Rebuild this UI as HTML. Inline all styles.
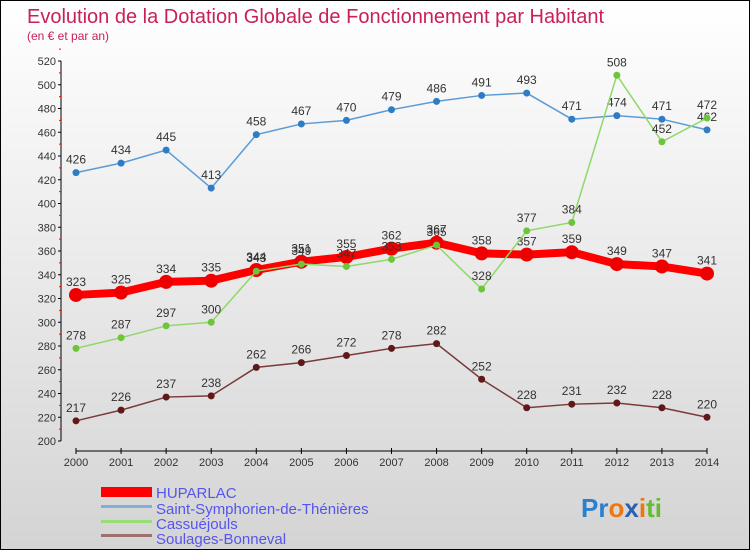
<!DOCTYPE html>
<html><head><meta charset="utf-8"><style>
body{margin:0}
#c{width:750px;height:550px;position:relative;background:linear-gradient(#fff,#d4d4d4);border:1px solid #000;box-sizing:border-box;font-family:"Liberation Sans",sans-serif;overflow:hidden}
</style></head><body>
<div id="c">
<svg id="s" width="748" height="548" style="position:absolute;left:0;top:0">
<text x="26" y="22" font-size="20" fill="#c8205a">Evolution de la Dotation Globale de Fonctionnement par Habitant</text>
<text x="26" y="39" font-size="12" fill="#c8205a">(en € et par an)</text>
<g id="axes"></g><g id="series"></g>
<g>
<rect x="100" y="486" width="51" height="10" fill="#f00"/>
<text x="155" y="497" font-size="15" fill="#5555ee">HUPARLAC</text>
<rect x="100" y="504" width="51" height="3" fill="#7fb0d8"/>
<text x="155" y="513" font-size="15" fill="#5555ee">Saint-Symphorien-de-Thénières</text>
<rect x="100" y="519" width="51" height="3" fill="#99dd77"/>
<text x="155" y="528" font-size="15" fill="#5555ee">Cassuéjouls</text>
<rect x="100" y="533" width="51" height="3" fill="#a07070"/>
<text x="155" y="543" font-size="15" fill="#5555ee">Soulages-Bonneval</text>
</g>
<text x="580" y="516" font-size="26" font-weight="bold"><tspan fill="#2a80d0">Pr</tspan><tspan fill="#ee7711">o</tspan><tspan fill="#2a60b0">x</tspan><tspan fill="#ee7711">i</tspan><tspan fill="#66bb33">ti</tspan></text>
</svg></div>
<script>
const years=[2000,2001,2002,2003,2004,2005,2006,2007,2008,2009,2010,2011,2012,2013,2014];
const yTicks=[200,220,240,260,280,300,320,340,360,380,400,420,440,460,480,500,520];
const saintSym=[426,434,445,413,458,467,470,479,486,491,493,471,474,471,462];
const cassuejouls=[278,287,297,300,343,349,347,353,365,328,377,384,508,452,472];
const soulages=[217,226,237,238,262,266,272,278,282,252,228,231,232,228,220];
const huparlac=[323,325,334,335,344,351,355,362,367,358,357,359,349,347,341];
const NS="http://www.w3.org/2000/svg";
const X=i=>75+i*(706-75)/14, Y=v=>440-(v-200)*380/320;
function mk(t,a,p){const e=document.createElementNS(NS,t);for(const k in a)e.setAttribute(k,a[k]);p.appendChild(e);return e;}
const ax=document.getElementById('axes'),sg=document.getElementById('series');
let l=mk('line',{x1:60,y1:Y(200),x2:60,y2:Y(520),stroke:'#000'},ax);

yTicks.forEach(v=>{mk('line',{x1:57,x2:60,y1:Y(v),y2:Y(v),stroke:'#000'},ax);
 mk('line',{x1:58,x2:60,y1:Y(v+10),y2:Y(v+10),stroke:'#f00'},ax);
 const t=mk('text',{x:55,y:Y(v)+4,'font-size':11,'text-anchor':'end',fill:'#333'},ax);t.textContent=v;
 });
l=mk('line',{x1:75,y1:450,x2:706,y2:450,stroke:'#000'},ax);

years.forEach((y,i)=>{mk('line',{x1:X(i),x2:X(i),y1:447,y2:453,stroke:'#000'},ax);
 const t=mk('text',{x:X(i),y:465,'font-size':11,'text-anchor':'middle',fill:'#333'},ax);t.textContent=y;
 });
function series(vals,name,col,dot,w,r){
 const g=mk('g',{},sg);
 mk('polyline',{points:vals.map((v,i)=>X(i)+','+Y(v)).join(' '),fill:'none',stroke:col,'stroke-width':w},g);
 vals.forEach((v,i)=>{const c=mk('circle',{cx:X(i),cy:Y(v),r:r,fill:dot},g);
  
  const t=mk('text',{x:X(i),y:Y(v)-9,'font-size':12,'text-anchor':'middle',fill:'#333'},g);t.textContent=v;
  });
}
series(huparlac,'huparlac','#f00','#e00',8,7);
series(saintSym,'saint-symphorien','#5b9bd5','#2e7cc4',1.5,3.5);
series(cassuejouls,'cassuejouls','#8fd86a','#6cc53a',1.5,3.5);
series(soulages,'soulages','#7a3a3a','#601818',1.5,3.5);
</script></body></html>
